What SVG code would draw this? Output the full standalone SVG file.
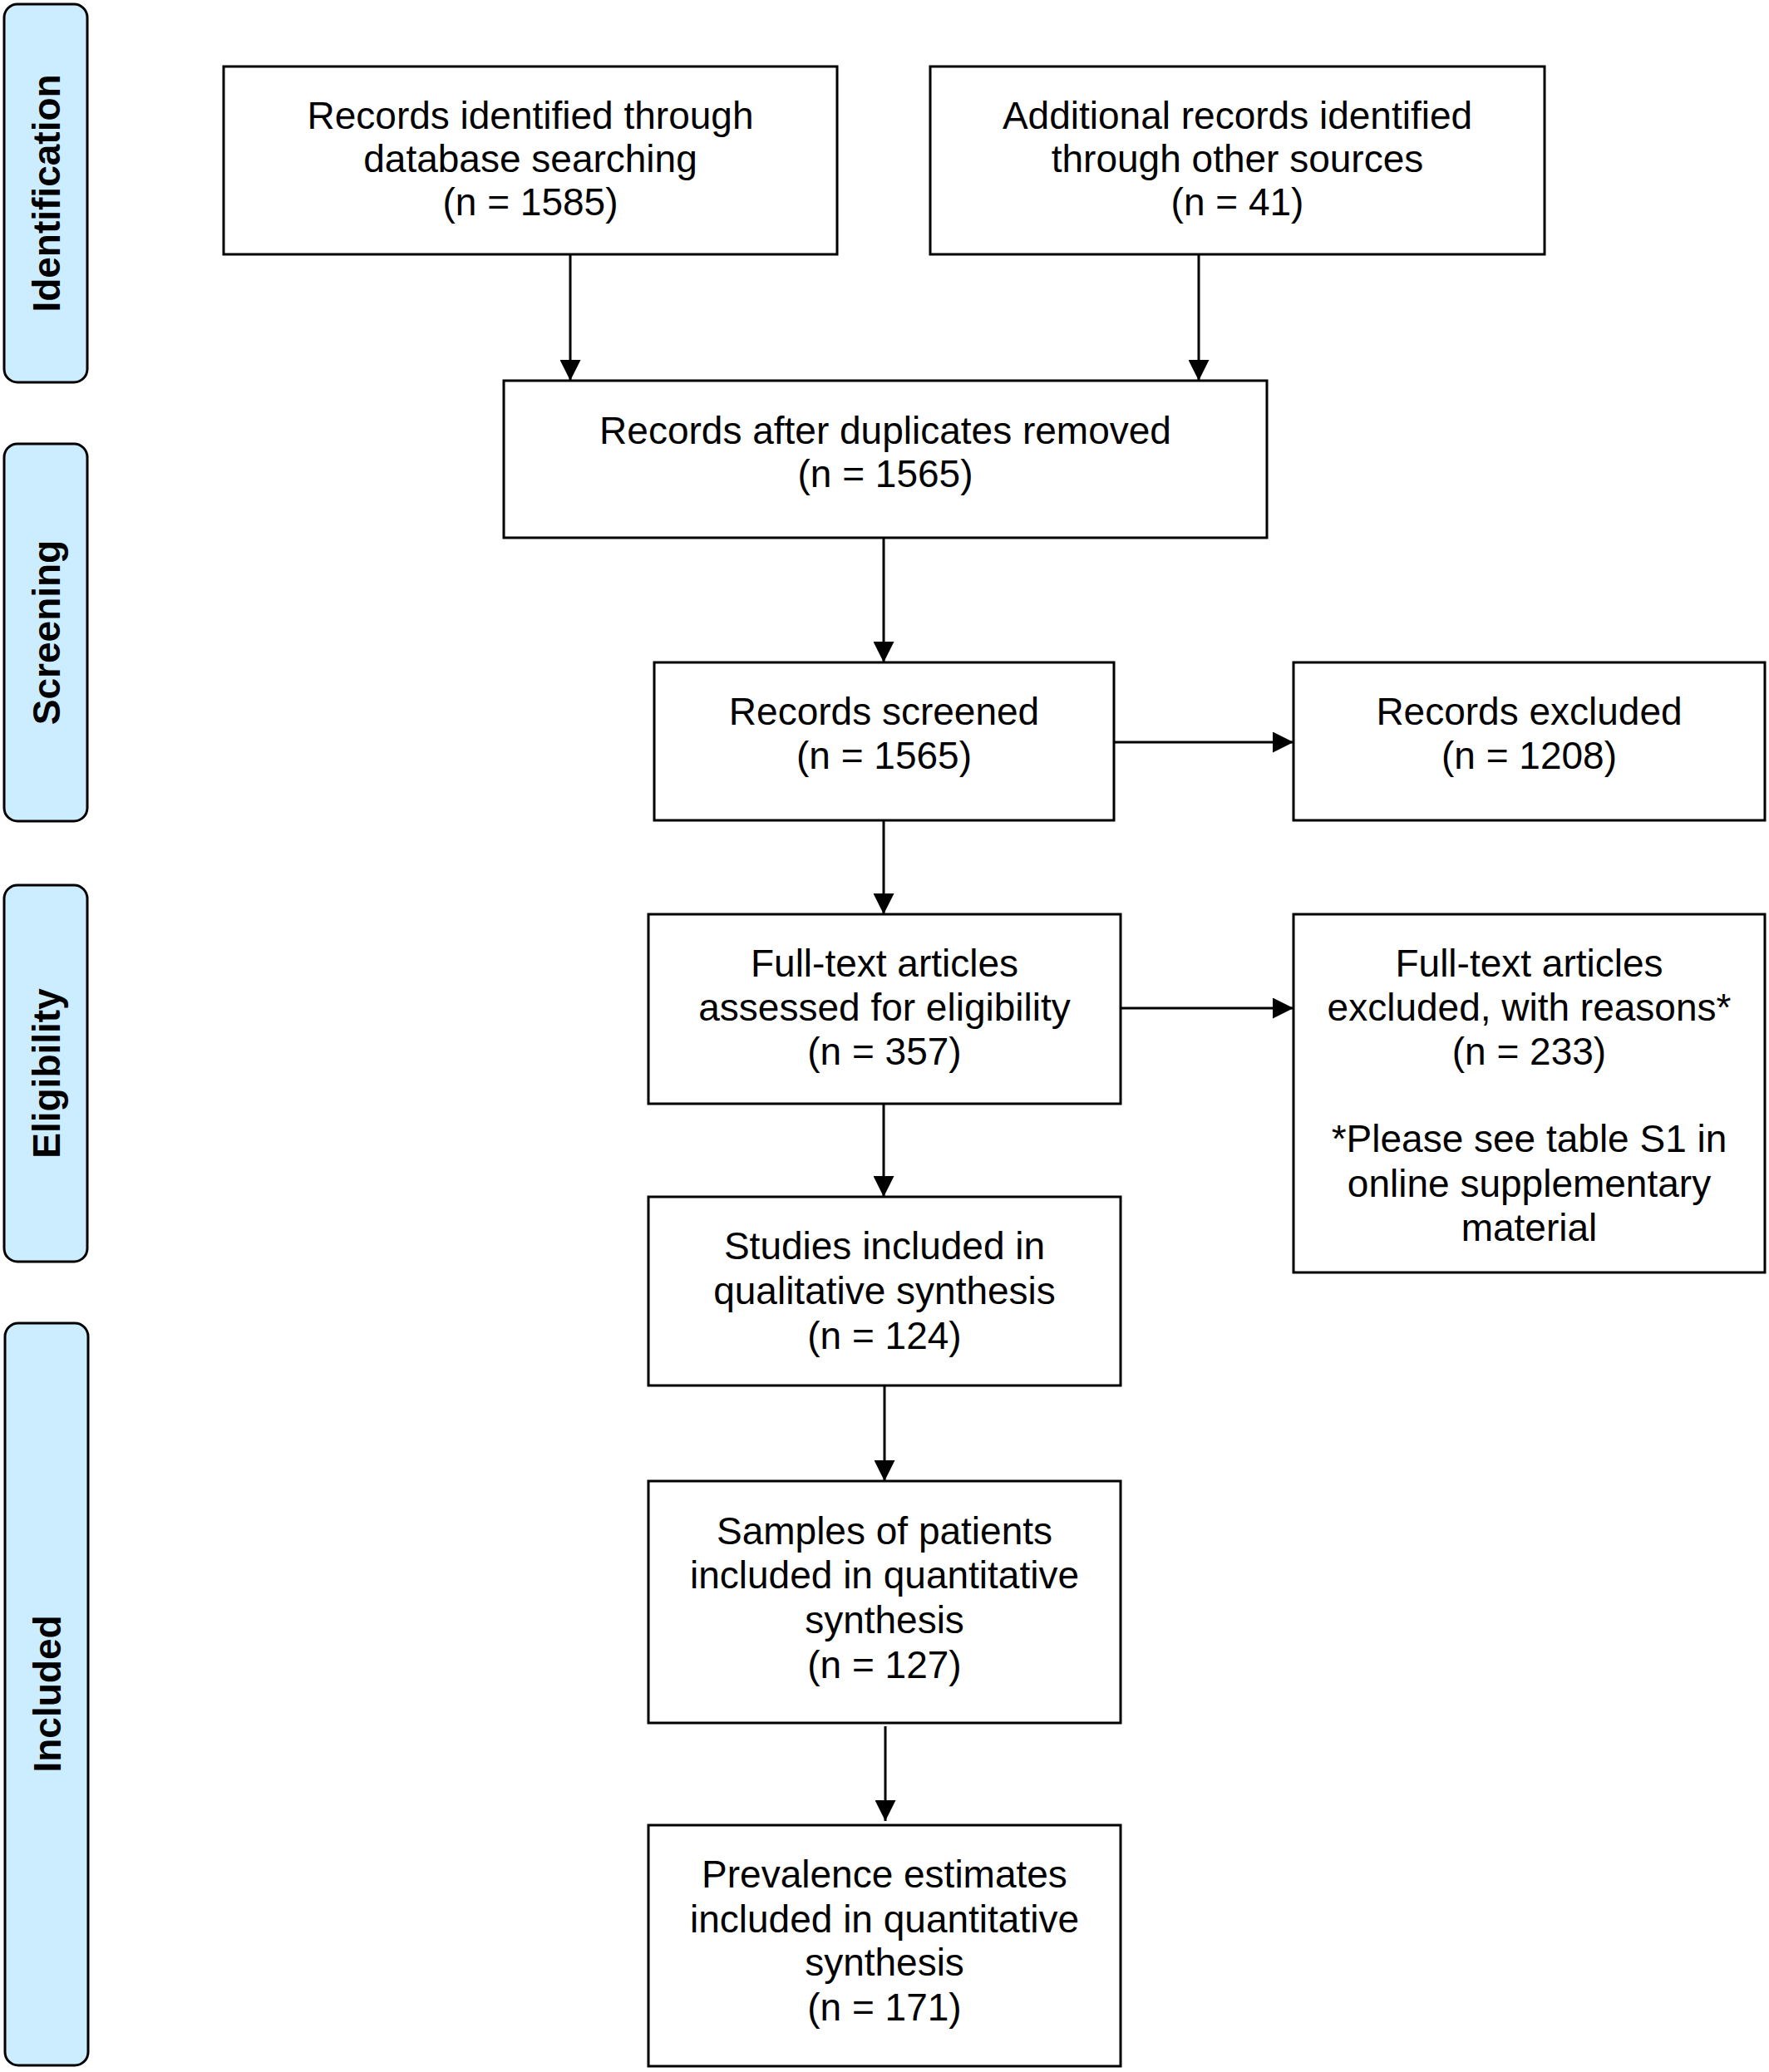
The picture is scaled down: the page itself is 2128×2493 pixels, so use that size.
<svg xmlns="http://www.w3.org/2000/svg" width="2128" height="2493" viewBox="0 0 2128 2493">
<style>
.box{fill:#ffffff;stroke:#000000;stroke-width:3}
.phase{fill:#CCECFF;stroke:#000000;stroke-width:3}
.t{font-family:"Liberation Sans",Arial,Helvetica,sans-serif;font-size:46px;fill:#000000;text-anchor:middle}
.pt{font-family:"Liberation Sans",Arial,Helvetica,sans-serif;font-size:46px;font-weight:bold;fill:#000000;text-anchor:middle}
.c{fill:none;stroke:#000000;stroke-width:3}
</style>
<defs>
<marker id="ah" markerUnits="userSpaceOnUse" viewBox="0 0 25 25" refX="25" refY="12.5" markerWidth="25" markerHeight="25" orient="auto">
<path d="M0,0 L25,12.5 L0,25 z" fill="#000000"/>
</marker>
</defs>
<rect width="2128" height="2493" fill="#ffffff"/>

<g id="phase-identification">
<rect class="phase" x="5" y="5" width="100" height="455" rx="16" ry="16"/>
<text class="pt" transform="translate(72,232.5) rotate(-90)">Identification</text>
</g>
<g id="phase-screening">
<rect class="phase" x="5" y="534" width="100" height="454" rx="16" ry="16"/>
<text class="pt" transform="translate(72,761) rotate(-90)">Screening</text>
</g>
<g id="phase-eligibility">
<rect class="phase" x="5" y="1065" width="100" height="453" rx="16" ry="16"/>
<text class="pt" transform="translate(72,1291.5) rotate(-90)">Eligibility</text>
</g>
<g id="phase-included">
<rect class="phase" x="6" y="1592" width="100" height="893" rx="16" ry="16"/>
<text class="pt" transform="translate(73,2038) rotate(-90)">Included</text>
</g>

<g id="connectors">
<path class="c" d="M686,306 L686,458" marker-end="url(#ah)"/>
<path class="c" d="M1442,306 L1442,458" marker-end="url(#ah)"/>
<path class="c" d="M1063,647 L1063,797" marker-end="url(#ah)"/>
<path class="c" d="M1340,893 L1556,893" marker-end="url(#ah)"/>
<path class="c" d="M1063,987 L1063,1100" marker-end="url(#ah)"/>
<path class="c" d="M1348,1213 L1556,1213" marker-end="url(#ah)"/>
<path class="c" d="M1063,1328 L1063,1440" marker-end="url(#ah)"/>
<path class="c" d="M1064,1667 L1064,1782" marker-end="url(#ah)"/>
<path class="c" d="M1065,2077 L1065,2191" marker-end="url(#ah)"/>
</g>

<g id="node-db">
<rect class="box" x="269" y="80" width="738" height="226"/>
<text class="t" x="638" y="155">Records identified through</text>
<text class="t" x="638" y="207">database searching</text>
<text class="t" x="638" y="259">(n = 1585)</text>
</g>
<g id="node-other">
<rect class="box" x="1119" y="80" width="739" height="226"/>
<text class="t" x="1488.5" y="155">Additional records identified</text>
<text class="t" x="1488.5" y="207">through other sources</text>
<text class="t" x="1488.5" y="259">(n = 41)</text>
</g>
<g id="node-dup">
<rect class="box" x="606" y="458" width="918" height="189"/>
<text class="t" x="1065" y="534">Records after duplicates removed</text>
<text class="t" x="1065" y="586">(n = 1565)</text>
</g>
<g id="node-screened">
<rect class="box" x="787" y="797" width="553" height="190"/>
<text class="t" x="1063.5" y="872">Records screened</text>
<text class="t" x="1063.5" y="925">(n = 1565)</text>
</g>
<g id="node-excluded">
<rect class="box" x="1556" y="797" width="567" height="190"/>
<text class="t" x="1839.5" y="872">Records excluded</text>
<text class="t" x="1839.5" y="925">(n = 1208)</text>
</g>
<g id="node-fulltext">
<rect class="box" x="780" y="1100" width="568" height="228"/>
<text class="t" x="1064" y="1175">Full-text articles</text>
<text class="t" x="1064" y="1228">assessed for eligibility</text>
<text class="t" x="1064" y="1281">(n = 357)</text>
</g>
<g id="node-ftexcluded">
<rect class="box" x="1556" y="1100" width="567" height="431"/>
<text class="t" x="1839.5" y="1175">Full-text articles</text>
<text class="t" x="1839.5" y="1228">excluded, with reasons*</text>
<text class="t" x="1839.5" y="1281">(n = 233)</text>
<text class="t" x="1839.5" y="1386">*Please see table S1 in</text>
<text class="t" x="1839.5" y="1440">online supplementary</text>
<text class="t" x="1839.5" y="1493">material</text>
</g>
<g id="node-qualitative">
<rect class="box" x="780" y="1440" width="568" height="227"/>
<text class="t" x="1064" y="1515">Studies included in</text>
<text class="t" x="1064" y="1569">qualitative synthesis</text>
<text class="t" x="1064" y="1623">(n = 124)</text>
</g>
<g id="node-samples">
<rect class="box" x="780" y="1782" width="568" height="291"/>
<text class="t" x="1064" y="1858">Samples of patients</text>
<text class="t" x="1064" y="1911">included in quantitative</text>
<text class="t" x="1064" y="1965">synthesis</text>
<text class="t" x="1064" y="2019">(n = 127)</text>
</g>
<g id="node-prevalence">
<rect class="box" x="780" y="2196" width="568" height="290"/>
<text class="t" x="1064" y="2271">Prevalence estimates</text>
<text class="t" x="1064" y="2325">included in quantitative</text>
<text class="t" x="1064" y="2377">synthesis</text>
<text class="t" x="1064" y="2431">(n = 171)</text>
</g>
</svg>
